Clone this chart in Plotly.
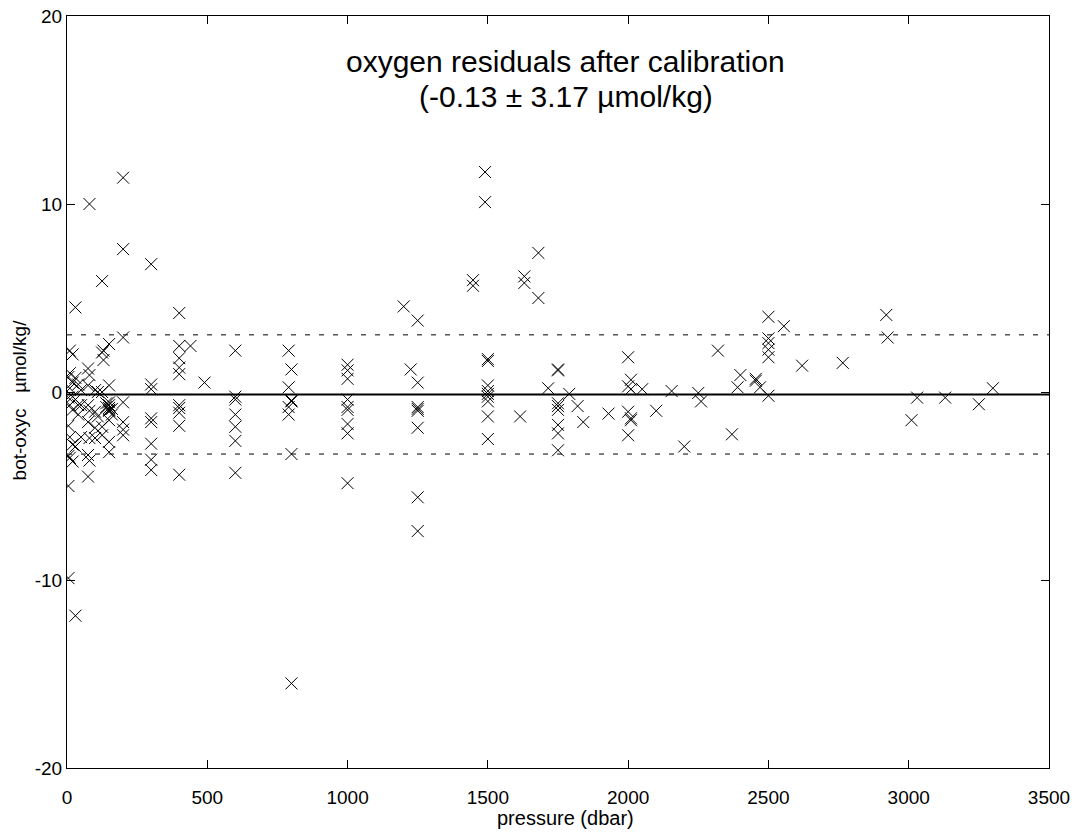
import plotly.graph_objects as go

# ---- data (pressure in dbar, residual in umol/kg) ----
pressure = [
    5, 5, 5, 5, 5, 5,
    10, 10, 10, 10, 10, 10,
    20, 20, 20, 20, 20, 20,
    30, 30, 30, 30, 30,
    40, 40, 40,
    50, 50, 50,
    75, 75, 75, 75, 75, 75,
    80, 80, 80, 80, 80,
    100, 100, 100, 100,
    110, 110,
    125, 125, 125, 125, 125,
    130, 130,
    140, 140,
    150, 150, 150, 150, 150, 150, 150, 150, 150, 150,
    160, 160,
    200, 200, 200, 200, 200, 200, 200,
    300, 300, 300, 300, 300, 300, 300, 300,
    400, 400, 400, 400, 400, 400, 400, 400, 400, 400,
    440, 490,
    600, 600, 600, 600, 600, 600, 600,
    790, 790, 790, 790,
    800, 800, 800, 800, 800,
    1000, 1000, 1000, 1000, 1000, 1000, 1000, 1000, 1000,
    1200, 1225,
    1250, 1250, 1250, 1250, 1250, 1250, 1250, 1250,
    1447, 1447,
    1490, 1490,
    1500, 1500, 1500, 1500, 1500, 1500, 1500, 1500, 1500,
    1615, 1630, 1630, 1680, 1680, 1715,
    1750, 1750, 1750, 1750, 1750, 1750, 1750, 1750,
    1790, 1820, 1840, 1930,
    2000, 2000, 2000, 2000,
    2010, 2010, 2010, 2010,
    2050, 2100, 2155, 2200, 2250, 2260, 2320, 2370, 2390, 2400,
    2455, 2455, 2470,
    2500, 2500, 2500, 2500, 2500, 2500,
    2555, 2620, 2765, 2920, 2925, 3010, 3030, 3130, 3250, 3300,
]
residual = [
    0.8, -0.3, -1.8, -3.4, -5.0, -9.9,
    2.2, 1.0, 0.2, -0.7, -2.4, -3.5,
    2.0, 0.5, -0.25, -0.95, -2.8, -3.7,
    4.5, 0.75, -0.4, -2.9, -11.9,
    0.4, -0.7, -1.2,
    -0.7, -2.4, 0.1,
    1.25, 0.35, -1.6, -3.35, -4.5, -0.7,
    10.0, 0.9, -1.0, -2.45, -3.65,
    0.1, -1.05, -1.9, -2.45,
    -1.3, 0.0,
    5.9, 2.1, 0.0, -1.85, -2.3,
    2.2, 1.7,
    -0.6, -0.8,
    2.55, 0.35, -0.55, -0.7, -0.85, -0.95, -1.0, -1.5, -2.65, -3.2,
    -0.9, -1.2,
    11.4, 7.6, 2.9, -0.55, -1.6, -2.0, -2.3,
    6.8, 0.4, 0.15, -1.4, -1.6, -2.75, -3.6, -4.15,
    4.2, 2.45, 1.8, 1.3, 0.95, -0.7, -0.85, -1.1, -1.8, -4.4,
    2.45, 0.5,
    2.2, -0.25, -0.4, -1.2, -1.85, -2.6, -4.3,
    2.2, 0.25, -0.8, -1.2,
    1.2, -0.5, -0.45, -3.3, -15.5,
    1.45, 1.15, 0.7, -0.4, -0.8, -0.95, -1.7, -2.2, -4.85,
    4.55, 1.2,
    3.8, 0.5, -0.8, -0.9, -1.0, -1.9, -5.6, -7.4,
    5.95, 5.65,
    11.7, 10.1,
    1.75, 1.65, 0.35, 0.05, -0.1, -0.25, -0.5, -1.3, -2.5,
    -1.3, 6.15, 5.8, 7.4, 5.0, 0.2,
    1.2, 1.15, -0.6, -0.75, -0.95, -1.75, -2.2, -3.1,
    -0.1, -0.75, -1.6, -1.15,
    1.85, 0.3, -1.05, -2.3,
    0.65, 0.15, -1.4, -1.5,
    0.15, -1.0, 0.05, -2.9, -0.05, -0.5, 2.2, -2.25, 0.25, 0.9,
    0.7, 0.6, 0.25,
    4.0, 2.85, 2.6, 2.25, 1.85, -0.2,
    3.5, 1.4, 1.55, 4.1, 2.9, -1.5, -0.3, -0.3, -0.65, 0.2,
]
mean_resid = -0.13
std_resid = 3.17
x_range = [0, 3500]
y_range = [-20, 20]
x_ticks = [0, 500, 1000, 1500, 2000, 2500, 3000, 3500]
y_ticks = [-20, -10, 0, 10, 20]

title_line1 = "oxygen residuals after calibration"
title_line2 = "(-0.13 \u00b1 3.17 \u00b5mol/kg)"
x_label = "pressure (dbar)"
y_label = "bot-oxyc   \u00b5mol/kg/"

FONT = "Arial, Liberation Sans, Helvetica, sans-serif"

fig = go.Figure()
fig.add_trace(go.Scatter(
    x=pressure, y=residual, mode="markers",
    marker=dict(symbol="x-thin-open", size=12, color="black",
                line=dict(color="black", width=1)),
    showlegend=False, hoverinfo="x+y",
))

# mean and +/- std lines
fig.add_shape(type="line", xref="x", yref="y", x0=x_range[0], x1=x_range[1],
              y0=mean_resid, y1=mean_resid, line=dict(color="black", width=2))
for s in (1, -1):
    yv = mean_resid + s * std_resid
    fig.add_shape(type="line", xref="x", yref="y", x0=x_range[0], x1=x_range[1],
                  y0=yv, y1=yv, line=dict(color="black", width=1, dash="5px,9px"))

fig.add_annotation(text=title_line1, xref="paper", yref="paper", x=0.508, y=0.939,
                   xanchor="center", yanchor="middle", showarrow=False,
                   font=dict(family=FONT, size=30, color="black"))
fig.add_annotation(text=title_line2, xref="paper", yref="paper", x=0.508, y=0.8936,
                   xanchor="center", yanchor="middle", showarrow=False,
                   font=dict(family=FONT, size=30, color="black"))
fig.add_annotation(text=x_label, xref="paper", yref="paper", x=0.508, y=-0.0665,
                   xanchor="center", yanchor="middle", showarrow=False,
                   font=dict(family=FONT, size=20, color="black"))
fig.add_annotation(text=y_label, xref="paper", yref="paper", x=-0.048, y=0.49,
                   xanchor="center", yanchor="middle", showarrow=False, textangle=-90,
                   font=dict(family=FONT, size=19, color="black"))

axis_common = dict(showgrid=False, zeroline=False, showline=True, linecolor="black",
                   linewidth=1, mirror="ticks", ticks="inside", ticklen=8,
                   tickcolor="black", tickwidth=1, automargin=False,
                   tickfont=dict(family=FONT, size=19, color="black"))
fig.update_xaxes(range=x_range, tickvals=x_ticks, ticktext=[str(t) for t in x_ticks],
                 ticklabelstandoff=12, **axis_common)
fig.update_yaxes(range=y_range, tickvals=y_ticks, ticktext=[str(t) for t in y_ticks],
                 **axis_common)

fig.update_layout(
    width=1088, height=834,
    margin=dict(l=67, r=39, t=16, b=66, pad=0, autoexpand=False),
    plot_bgcolor="white", paper_bgcolor="white",
    font=dict(family=FONT, color="black"),
)

# remove the default page margin so the figure fills the window exactly
fig.write_html(
    "out.html",
    config={"displayModeBar": False},
    post_script="document.body.style.margin='0px';document.body.style.overflow='hidden';",
)
